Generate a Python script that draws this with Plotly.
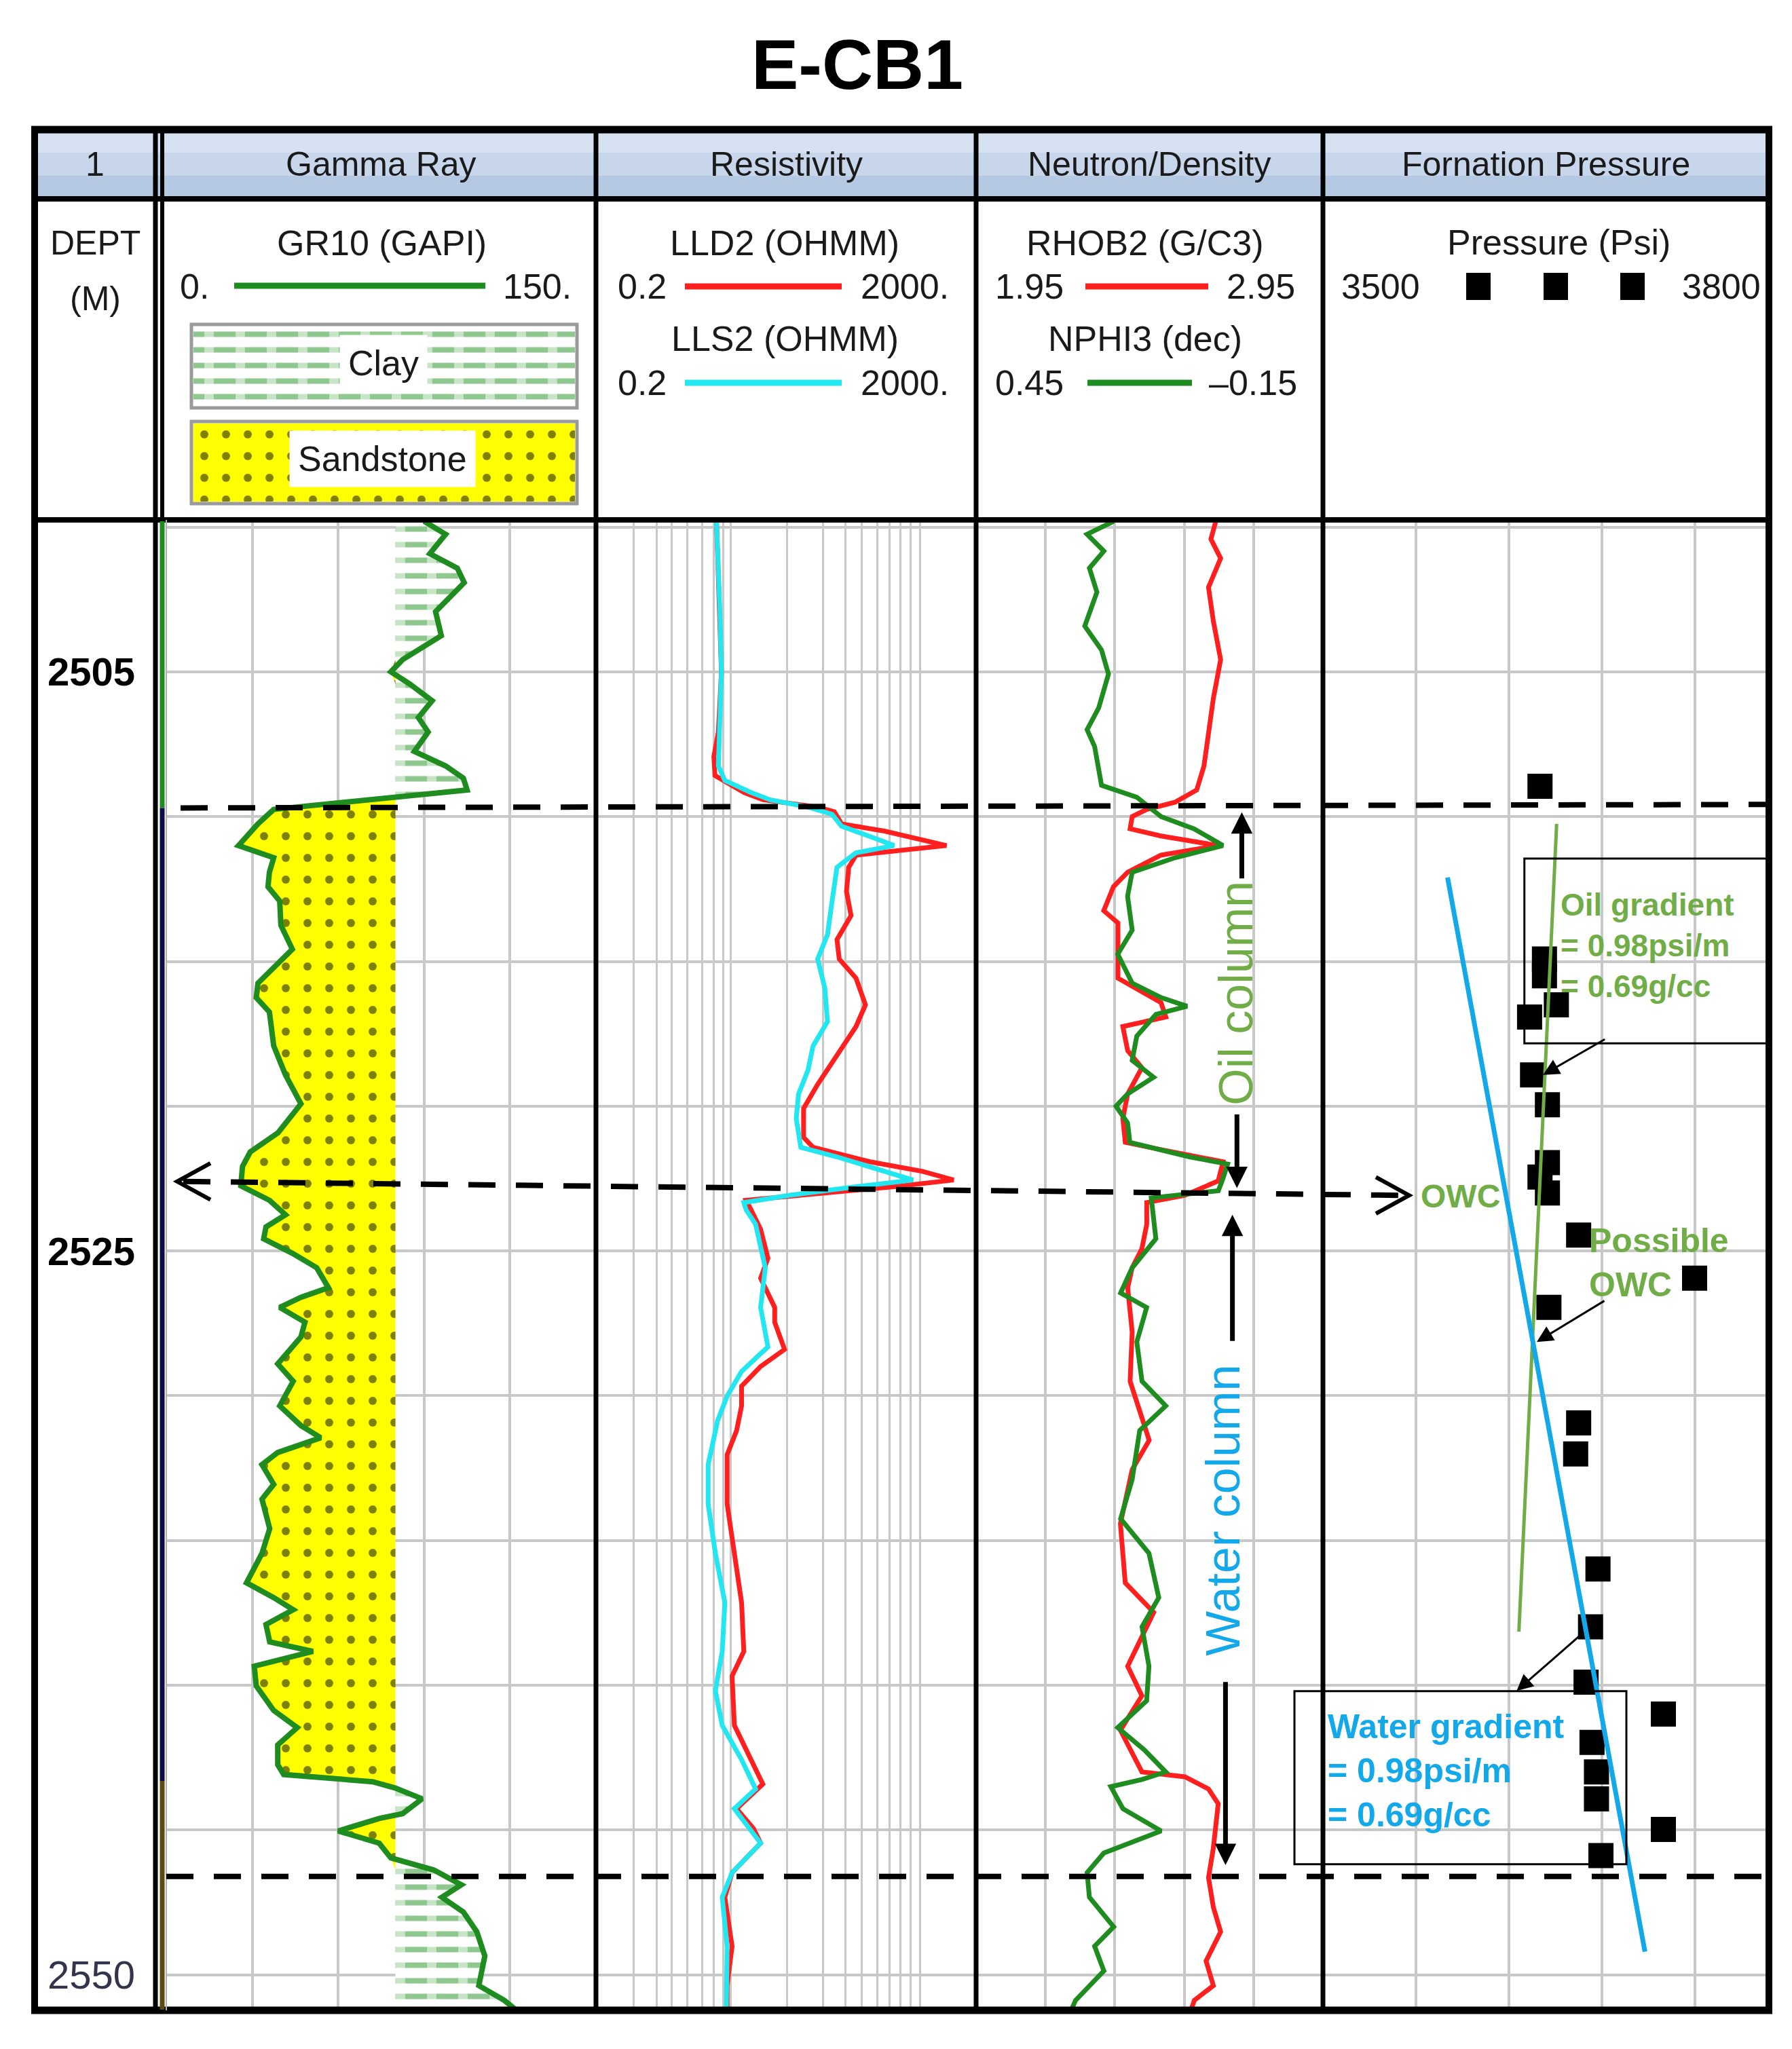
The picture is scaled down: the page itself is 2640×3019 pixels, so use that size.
import numpy as np
import plotly.graph_objects as go

# ---------------- readings taken from the log (depth in m) ----------------
gr_depth = [2499.8, 2500.25, 2500.92, 2501.42, 2501.92, 2502.42, 2502.92, 2503.75, 2504.58, 2505.0,
            2505.42, 2506.0, 2506.58, 2507.08, 2507.75, 2508.25, 2508.67, 2509.08, 2509.33, 2509.75,
            2510.25, 2511.0, 2511.42, 2511.92, 2512.42, 2512.92, 2513.75, 2514.58, 2515.08, 2515.75,
            2516.25, 2516.75, 2517.92, 2518.92, 2519.92, 2520.92, 2521.58, 2522.08, 2522.75, 2523.25,
            2523.75, 2524.17, 2524.58, 2525.08, 2525.58, 2526.27, 2526.6, 2526.95, 2527.46, 2527.97,
            2528.9, 2529.5, 2530.35, 2531.03, 2531.45, 2531.96, 2532.38, 2533.06, 2533.57, 2534.59,
            2535.44, 2536.46, 2536.97, 2537.39, 2537.9, 2538.5, 2538.83, 2539.34, 2540.02, 2540.87,
            2541.46, 2542.06, 2542.74, 2543.08, 2543.33, 2543.55, 2543.92, 2544.43, 2544.6, 2545.03,
            2545.45, 2545.96, 2546.38, 2546.89, 2547.32, 2547.83, 2548.51, 2549.35, 2550.37, 2550.88,
            2551.2]
gr_api = [90, 97.5, 92, 101.6, 104, 99, 94, 96, 82.5, 78.4,
          85, 92.8, 88, 91.4, 86.6, 97.5, 103.7, 105, 80, 37.5,
          32, 25.2, 37.5, 36, 35.5, 39.6, 40, 44, 38.9, 32,
          31.4, 36, 37.5, 41.6, 47, 39, 29.3, 26.6, 26, 36,
          41.6, 34.8, 34, 44, 52.5, 56.6, 47, 39.6, 48.4, 47,
          38.9, 44.3, 39.6, 47, 53.9, 38.9, 33.4, 37.5, 33.4, 36.1,
          33.4, 28, 37.5, 44.3, 34.8, 36.1, 51.2, 30.7, 31.4, 37.5,
          45.7, 38.9, 38.9, 41, 72, 80, 89.3, 82.5, 74.3, 60,
          74.3, 78.4, 93.4, 103, 96.2, 103.7, 108.4, 111.2, 109.1, 118,
          122]
sand_cutoff = 80

lld_depth = [2499.8, 2502.92, 2505.0, 2507.08, 2507.92, 2508.58, 2509.17, 2509.42, 2509.67, 2509.83,
             2510.25, 2510.5, 2511.0, 2511.33, 2511.75, 2512.58, 2513.42, 2514.25, 2514.92, 2515.58,
             2516.5, 2517.25, 2518.25, 2519.25, 2520.08, 2521.08, 2521.42, 2521.92, 2522.25, 2522.55,
             2522.78, 2523.08, 2523.25, 2523.58, 2524.25, 2525.25, 2525.94, 2526.95, 2527.46, 2528.4,
             2528.99, 2529.67, 2530.35, 2531.2, 2532.04, 2533.74, 2535.44, 2537.14, 2538.83, 2539.68,
             2541.38, 2542.57, 2543.41, 2544.26, 2544.94, 2545.45, 2546.47, 2547.32, 2549.01, 2550.37,
             2551.2]
lld_ohmm = [3.71, 4.03, 4.18, 3.88, 3.48, 3.57, 7.26, 11.5, 43, 64.4,
            76.7, 217, 975, 109, 91.4, 86.5, 96.6, 68.7, 72.6, 109,
            137, 109, 68.7, 43, 30.6, 30.6, 38.5, 153, 546, 1162,
            274, 24.3, 7.6, 8.57, 10.8, 12.9, 10.8, 15.2, 15.2, 19.3,
            10.8, 6.81, 6.81, 6.04, 4.8, 4.8, 5.72, 6.81, 7.19, 5.41,
            5.72, 8.57, 11.4, 6.04, 9.06, 10.8, 5.41, 4.54, 5.41, 4.8,
            4.8]

lls_depth = [2499.8, 2501.25, 2502.92, 2505.0, 2507.08, 2508.25, 2508.75, 2509.17, 2509.42, 2509.67,
             2509.92, 2510.33, 2510.75, 2511.0, 2511.25, 2511.75, 2512.92, 2514.08, 2514.92, 2515.92,
             2517.08, 2517.92, 2518.75, 2519.58, 2520.42, 2521.42, 2521.75, 2522.25, 2522.55, 2522.78,
             2523.08, 2523.33, 2523.58, 2524.08, 2524.92, 2525.58, 2526.95, 2528.31, 2529.16, 2530.01,
             2530.86, 2532.38, 2533.74, 2535.44, 2537.14, 2538.83, 2540.19, 2541.38, 2542.57, 2543.58,
             2544.26, 2545.45, 2546.47, 2547.32, 2549.01, 2550.88, 2551.2]
lls_ohmm = [3.71, 3.88, 4.03, 4.18, 4.03, 3.88, 4.54, 8.57, 13.6, 34.1,
            61, 76.7, 173, 274, 109, 68.7, 61, 54.6, 43, 51.2,
            54.6, 38.5, 34.1, 27.1, 25.6, 28.6, 68.7, 217, 434, 109,
            21.5, 7.19, 7.6, 9.57, 10.8, 12.1, 10.8, 12.9, 6.81, 4.8,
            3.81, 3.03, 3.03, 3.61, 4.54, 4.26, 3.61, 4.26, 6.81, 9.57,
            5.72, 10.8, 5.41, 4.26, 4.8, 4.71, 4.7]

rhob_depth = [2499.8, 2500.42, 2501.08, 2502.08, 2503.25, 2504.58, 2505.92, 2507.08, 2508.25, 2509.08,
              2509.5, 2509.75, 2510.0, 2510.42, 2510.67, 2511.0, 2511.33, 2511.92, 2512.42, 2513.25,
              2513.67, 2514.58, 2515.58, 2516.42, 2516.92, 2517.25, 2518.08, 2518.67, 2519.58, 2520.42,
              2521.25, 2521.5, 2521.92, 2522.58, 2523.08, 2523.33, 2524.08, 2524.92, 2525.58, 2526.27,
              2527.8, 2529.5, 2531.54, 2532.55, 2534.42, 2536.46, 2537.48, 2539.34, 2540.36, 2541.55,
              2542.99, 2543.16, 2543.58, 2544.09, 2545.62, 2546.64, 2547.66, 2548.51, 2549.52, 2550.37,
              2550.88, 2551.2]
rhob_gcc = [2.641, 2.627, 2.655, 2.62, 2.634, 2.655, 2.634, 2.62, 2.607, 2.586,
            2.524, 2.442, 2.40, 2.394, 2.483, 2.648, 2.483, 2.387, 2.346, 2.318,
            2.359, 2.359, 2.359, 2.483, 2.497, 2.373, 2.387, 2.428, 2.387, 2.373,
            2.38, 2.483, 2.662, 2.648, 2.552, 2.442, 2.442, 2.428, 2.40, 2.387,
            2.40, 2.394, 2.449, 2.40, 2.366, 2.38, 2.462, 2.387, 2.428, 2.366,
            2.428, 2.552, 2.62, 2.648, 2.634, 2.62, 2.634, 2.655, 2.613, 2.634,
            2.579, 2.57]

nphi_depth = [2499.8, 2500.25, 2500.83, 2501.42, 2502.25, 2503.42, 2504.25, 2505.08, 2506.25, 2507.0,
              2507.58, 2508.92, 2509.33, 2509.67, 2510.0, 2510.42, 2511.0, 2511.42, 2511.92, 2512.75,
              2513.92, 2514.75, 2515.75, 2516.25, 2516.55, 2516.83, 2517.58, 2518.42, 2519.0, 2519.58,
              2520.0, 2520.58, 2521.25, 2521.75, 2522.0, 2522.5, 2522.92, 2523.17, 2523.75, 2524.58,
              2525.58, 2526.45, 2526.95, 2528.14, 2529.5, 2530.35, 2531.2, 2532.89, 2534.25, 2535.44,
              2536.97, 2537.98, 2539.34, 2540.53, 2541.46, 2542.23, 2542.99, 2543.25, 2543.5, 2544.26,
              2545.03, 2545.79, 2546.47, 2547.32, 2548.34, 2549.01, 2549.86, 2550.88, 2551.2]
nphi_dec = [0.212, 0.258, 0.229, 0.254, 0.241, 0.262, 0.233, 0.221, 0.238, 0.258,
            0.245, 0.233, 0.172, 0.151, 0.13, 0.073, 0.023, 0.106, 0.18, 0.188,
            0.18, 0.205, 0.18, 0.13, 0.085, 0.139, 0.172, 0.18, 0.143, 0.188,
            0.208, 0.188, 0.184, 0.081, 0.015, 0.023, 0.031, 0.147, 0.143, 0.139,
            0.18, 0.2, 0.155, 0.172, 0.163, 0.122, 0.167, 0.18, 0.2, 0.151,
            0.134, 0.163, 0.151, 0.155, 0.205, 0.159, 0.122, 0.163, 0.217, 0.196,
            0.13, 0.229, 0.258, 0.254, 0.212, 0.245, 0.229, 0.278, 0.285]

press_depth = [2508.95, 2514.92, 2515.5, 2516.5, 2516.92, 2518.92, 2519.95, 2521.95, 2522.45, 2523.0,
               2524.45, 2525.94, 2526.95, 2530.94, 2532.01, 2535.98, 2537.98, 2539.89, 2540.99, 2541.97,
               2542.99, 2543.92, 2544.98, 2545.88]
press_psi = [3646, 3649, 3649, 3657, 3639, 3641, 3651, 3651, 3646, 3651,
             3672, 3750, 3652, 3672, 3670, 3685, 3680, 3677, 3729, 3681,
             3684, 3684, 3729, 3687]

oil_grad_depth = [2510.25, 2538.15]
oil_grad_psi = [3657.2, 3631.8]
water_grad_depth = [2512.1, 2549.2]
water_grad_psi = [3583.8, 3716.6]

top_sand = 2509.7
owc_depth = 2522.6
base_sand = 2546.6
depth_labels = [2505, 2525, 2550]
res_grid = [0.5, 0.87, 1.26, 1.82, 2.64, 3.48, 4.38, 5.26, 20.6, 49.3,
            84.9, 126, 182, 245, 317, 410, 512]

# ---------------- page geometry (pixels) ----------------
W, H = 2640, 3019
FONT = 'Liberation Sans, Arial, sans-serif'
GREEN = '#1e8c1e'
RED = '#ff1f1f'
CYAN = '#22e6f0'
OIL = '#70ad47'
WATER = '#12a8ea'
GRID = '#c8c8c8'

DEPTH_L, DEPTH_R = 43, 221
GR_L, GR_R = 237, 870
RES_L, RES_R = 870, 1430
ND_L, ND_R = 1430, 1941
PR_L, PR_R = 1941, 2598
TOP, HEAD_B, INFO_B, BOT = 183, 285, 758, 2954


def px(x):
    return x / W


def py(y):
    return 1 - y / H


shapes = []
annos = []


def line(x0, y0, x1, y1, color='black', width=8, dash=None, yref='paper'):
    yy0 = py(y0) if yref == 'paper' else y0
    yy1 = py(y1) if yref == 'paper' else y1
    shapes.append(dict(type='line', xref='paper', yref=yref, x0=px(x0), x1=px(x1), y0=yy0, y1=yy1,
                       line=dict(color=color, width=width, dash=dash), layer='above'))


def rect(x0, y0, x1, y1, fill=None, color=None, width=0, layer='above'):
    shapes.append(dict(type='rect', xref='paper', yref='paper', x0=px(x0), x1=px(x1), y0=py(y1), y1=py(y0),
                       fillcolor=fill, line=dict(color=color, width=width), layer=layer))


def text(x, y, s, size=52, color='#1a1a1a', bold=False, xanchor='center', **kw):
    annos.append(dict(xref='paper', yref='paper', x=px(x), y=py(y), text='<b>%s</b>' % s if bold else s,
                      showarrow=False, xanchor=xanchor, yanchor='middle',
                      font=dict(family=FONT, size=size, color=color), **kw))


def arrow(x, y, ax, ay, xref, width=3, size=1.6):
    annos.append(dict(xref=xref, yref='y', axref=xref, ayref='y', x=x, y=y, ax=ax, ay=ay, text='',
                      showarrow=True, arrowhead=2, arrowwidth=width, arrowsize=size, arrowcolor='black',
                      standoff=0))


# header strip
rect(DEPTH_L, TOP, PR_R, 217, fill='#d6e2f1', layer='below')
rect(DEPTH_L, 217, PR_R, 251, fill='#c7d6eb', layer='below')
rect(DEPTH_L, 251, PR_R, HEAD_B, fill='#b6c9e3', layer='below')

# frame
for y in (TOP, HEAD_B, INFO_B, BOT):
    line(DEPTH_L - 5, y, PR_R + 5, y, width=11 if y in (TOP, BOT) else 8)
for x in (DEPTH_L, DEPTH_R, RES_L, ND_L, PR_L, PR_R):
    line(x, TOP, x, BOT, width=10 if x in (DEPTH_L, PR_R) else 7)
line(231, TOP, 231, INFO_B, width=6)
line(GR_L, INFO_B, GR_L, BOT, color='#b0b0b0', width=2)

# zone flag next to depth column
line(231, 2499.8, 231, top_sand, color='#1e8c1e', width=7, yref='y')
line(231, top_sand, 231, 2543.3, color='#0b0b45', width=7, yref='y')
line(231, 2543.3, 231, 2551.2, color='#5c4a12', width=7, yref='y')

# header titles
text(132, 234, '1', 50)
text((GR_L + GR_R) / 2, 234, 'Gamma Ray', 50)
text((RES_L + RES_R) / 2, 234, 'Resistivity', 50)
text((ND_L + ND_R) / 2, 234, 'Neutron/Density', 50)
text((PR_L + PR_R) / 2, 234, 'Fornation Pressure', 50)
text(1255, 87, 'E-CB1', 104, color='black', bold=True)

# curve scales
text(132, 350, 'DEPT', 50)
text(132, 432, '(M)', 50)
text(554, 350, 'GR10 (GAPI)', 52)
text(278, 414, '0.', 52)
text(783, 414, '150.', 52)
line(337, 413, 707, 413, color=GREEN, width=9)

text(1148, 350, 'LLD2 (OHMM)', 52)
text(938, 414, '0.2', 52)
text(1325, 414, '2000.', 52)
line(1001, 414, 1232, 414, color=RED, width=9)
text(1148, 491, 'LLS2 (OHMM)', 52)
text(938, 556, '0.2', 52)
text(1325, 556, '2000.', 52)
line(1001, 556, 1232, 556, color=CYAN, width=9)

text(1679, 350, 'RHOB2 (G/C3)', 52)
text(1508, 414, '1.95', 52)
text(1849, 414, '2.95', 52)
line(1591, 414, 1772, 414, color=RED, width=9)
text(1679, 491, 'NPHI3 (dec)', 52)
text(1508, 556, '0.45', 52)
text(1905, 556, '–0.15', 52, xanchor='right')
line(1594, 556, 1748, 556, color=GREEN, width=9)

text(2288, 349, 'Pressure (Psi)', 52)
text(2026, 414, '3500', 52)
text(2528, 414, '3800', 52)
for cx in (2170, 2284, 2397):
    rect(cx - 18, 394, cx + 18, 434, fill='black')

# lithology legend boxes
rect(274, 470, 842, 593, color='#9a9a9a', width=5)
rect(274, 613, 842, 734, color='#9a9a9a', width=5)
text(557, 527, 'Clay', 52, bgcolor='white', borderpad=12)
text(555, 668, 'Sandstone', 52, bgcolor='white', borderpad=12)

# depth labels
for d in depth_labels:
    annos.append(dict(xref='paper', yref='y', x=px(126), y=d, xanchor='center', yanchor='middle',
                      showarrow=False, text='<b>%d</b>' % d if d != 2550 else str(d),
                      font=dict(family=FONT, size=58, color='black' if d != 2550 else '#34344a')))

# contacts
DASH = '40px,30px'
line(258, top_sand, PR_R, top_sand - 0.12, width=8, dash=DASH, yref='y')
line(262, owc_depth, 2062, owc_depth + 0.48, width=8, dash=DASH, yref='y')
line(GR_L, base_sand, 2590, base_sand, width=8, dash=DASH, yref='y')
shapes.append(dict(type='path', xref='paper', yref='y', layer='above', line=dict(color='black', width=6),
                   path='M%f,%f L%f,%f L%f,%f' % (px(302), owc_depth - 0.63, px(253), owc_depth,
                                                 px(302), owc_depth + 0.63)))
shapes.append(dict(type='path', xref='paper', yref='y', layer='above', line=dict(color='black', width=6),
                   path='M%f,%f L%f,%f L%f,%f' % (px(2019), owc_depth - 0.15, px(2068), owc_depth + 0.48,
                                                 px(2019), owc_depth + 1.11)))

# oil / water column annotations in N/D track
annos.append(dict(xref='x3', yref='y', x=2.70, y=2516.1, text='Oil column', textangle=-90, showarrow=False,
                  font=dict(family=FONT, size=70, color=OIL)))
annos.append(dict(xref='x3', yref='y', x=2.662, y=2533.95, text='Water column', textangle=-90, showarrow=False,
                  font=dict(family=FONT, size=70, color=WATER)))
arrow(2.716, 2509.85, 2.716, 2512.17, 'x3', width=7, size=0.9)
arrow(2.702, 2522.83, 2.702, 2520.25, 'x3', width=7, size=0.9)
arrow(2.689, 2523.75, 2.689, 2528.14, 'x3', width=7, size=0.9)
arrow(2.669, 2546.21, 2.669, 2539.85, 'x3', width=7, size=0.9)

# gradient notes in pressure track
shapes.append(dict(type='rect', xref='x5', yref='y', x0=3635.5, x1=3800, y0=2511.45, y1=2517.83,
                   line=dict(color='black', width=3), layer='above'))
shapes.append(dict(type='rect', xref='paper', yref='y', x0=px(1899), x1=px(2388), y0=2540.2, y1=2546.18,
                   line=dict(color='black', width=3), layer='above'))
annos.append(dict(xref='x5', yref='y', x=3659, y=2514.45, xanchor='left', align='left', showarrow=False,
                  text='<b>Oil gradient<br>= 0.98psi/m<br>= 0.69g/cc</b>',
                  font=dict(family=FONT, size=46, color=OIL)))
annos.append(dict(xref='x5', yref='y', x=3565, y=2523.1, xanchor='left', showarrow=False,
                  text='<b>OWC</b>', font=dict(family=FONT, size=48, color=OIL)))
annos.append(dict(xref='x5', yref='y', x=3678, y=2525.4, xanchor='left', showarrow=False, align='left',
                  text='<b>Possible<br>OWC</b>', font=dict(family=FONT, size=50, color=OIL)))
annos.append(dict(xref='paper', yref='y', x=px(1946), y=2542.95, xanchor='left', align='left', showarrow=False,
                  text='<b>Water gradient<br>= 0.98psi/m<br>= 0.69g/cc</b>',
                  font=dict(family=FONT, size=50, color=WATER)))
arrow(3648, 2518.92, 3690.3, 2517.67, 'x5')
arrow(3643.8, 2528.14, 3690, 2526.7, 'x5')
arrow(3630.3, 2540.19, 3673.8, 2538.24, 'x5')

# ---------------- traces ----------------
fig = go.Figure()
gr = np.array(gr_api)
cut = np.full(gr.shape, sand_cutoff)
skip = dict(hoverinfo='skip', showlegend=False)


def edge(x, y, xa='x', ya='y'):
    return go.Scatter(x=x, y=y, xaxis=xa, yaxis=ya, mode='lines', line=dict(width=0), **skip)


def patch(x, y, pattern, xa='x', ya='y', fill='tonextx'):
    return go.Scatter(x=x, y=y, xaxis=xa, yaxis=ya, mode='lines', line=dict(width=0), fill=fill,
                      fillpattern=pattern, **skip)


clay_lines = dict(shape='-', fgcolor='#1f921f', bgcolor='white', size=23, solidity=0.35)
clay_gaps = dict(shape='|', fgcolor='white', bgcolor='rgba(255,255,255,0)', size=46, solidity=0.3)
sand_dots = dict(shape='.', fgcolor='black', bgcolor='#ffff00', size=32, solidity=0.11)

fig.add_trace(edge(cut, gr_depth))
fig.add_trace(patch(np.maximum(gr, cut), gr_depth, clay_lines))
fig.add_trace(edge(cut, gr_depth))
fig.add_trace(patch(np.maximum(gr, cut), gr_depth, clay_gaps))
fig.add_trace(edge(cut, gr_depth))
fig.add_trace(patch(np.minimum(gr, cut), gr_depth, sand_dots))
fig.add_trace(go.Scatter(x=gr_api, y=gr_depth, xaxis='x', yaxis='y', mode='lines',
                         line=dict(color=GREEN, width=8), **skip))

fig.add_trace(go.Scatter(x=lld_ohmm, y=lld_depth, xaxis='x2', yaxis='y', mode='lines',
                         line=dict(color=RED, width=7), **skip))
fig.add_trace(go.Scatter(x=lls_ohmm, y=lls_depth, xaxis='x2', yaxis='y', mode='lines',
                         line=dict(color=CYAN, width=7), **skip))

fig.add_trace(go.Scatter(x=rhob_gcc, y=rhob_depth, xaxis='x3', yaxis='y', mode='lines',
                         line=dict(color=RED, width=7), **skip))
fig.add_trace(go.Scatter(x=nphi_dec, y=nphi_depth, xaxis='x4', yaxis='y', mode='lines',
                         line=dict(color=GREEN, width=7), **skip))

fig.add_trace(go.Scatter(x=press_psi, y=press_depth, xaxis='x5', yaxis='y', mode='markers',
                         marker=dict(symbol='square', size=37, color='black'), **skip))
fig.add_trace(go.Scatter(x=oil_grad_psi, y=oil_grad_depth, xaxis='x5', yaxis='y', mode='lines',
                         line=dict(color=OIL, width=5), **skip))
fig.add_trace(go.Scatter(x=water_grad_psi, y=water_grad_depth, xaxis='x5', yaxis='y', mode='lines',
                         line=dict(color=WATER, width=7), **skip))

# legend swatches
box = [0, 1, 1, 0, 0]
boy = [0, 0, 1, 1, 0]
fig.add_trace(patch(box, boy, clay_lines, 'x6', 'y6', 'toself'))
fig.add_trace(patch(box, boy, clay_gaps, 'x6', 'y6', 'toself'))
fig.add_trace(patch(box, boy, sand_dots, 'x7', 'y7', 'toself'))

grid = dict(showgrid=True, gridcolor=GRID, gridwidth=4, zeroline=False, showticklabels=False,
            ticks='', showline=False, fixedrange=True)
hidden = dict(visible=False, range=[0, 1], fixedrange=True)

fig.update_layout(
    width=W, height=H, margin=dict(l=0, r=0, t=0, b=0),
    paper_bgcolor='white', plot_bgcolor='white', showlegend=False,
    shapes=shapes, annotations=annos,
    xaxis=dict(domain=[px(GR_L), px(GR_R)], range=[0, 150], tick0=0, dtick=30, anchor='y', **grid),
    xaxis2=dict(domain=[px(RES_L), px(RES_R)], type='log', range=[np.log10(0.2), np.log10(2000)],
                tickmode='array', tickvals=res_grid, anchor='y', **{**grid, 'gridwidth': 3}),
    xaxis3=dict(domain=[px(ND_L), px(ND_R)], range=[1.95, 2.95], tick0=1.95, dtick=0.2, anchor='y', **grid),
    xaxis4=dict(overlaying='x3', range=[0.45, -0.15], visible=False, anchor='y', fixedrange=True),
    xaxis5=dict(domain=[px(PR_L), px(PR_R)], range=[3500, 3800], tick0=3500, dtick=62.5, anchor='y', **grid),
    yaxis=dict(domain=[py(2953), py(760)], range=[2551.2, 2499.8], tick0=2500, dtick=5, anchor='x', **grid),
    xaxis6=dict(domain=[px(277), px(839)], anchor='y6', **hidden),
    yaxis6=dict(domain=[py(590), py(473)], anchor='x6', **hidden),
    xaxis7=dict(domain=[px(277), px(839)], anchor='y7', **hidden),
    yaxis7=dict(domain=[py(731), py(616)], anchor='x7', **hidden),
)

fig.write_html("out.html")
